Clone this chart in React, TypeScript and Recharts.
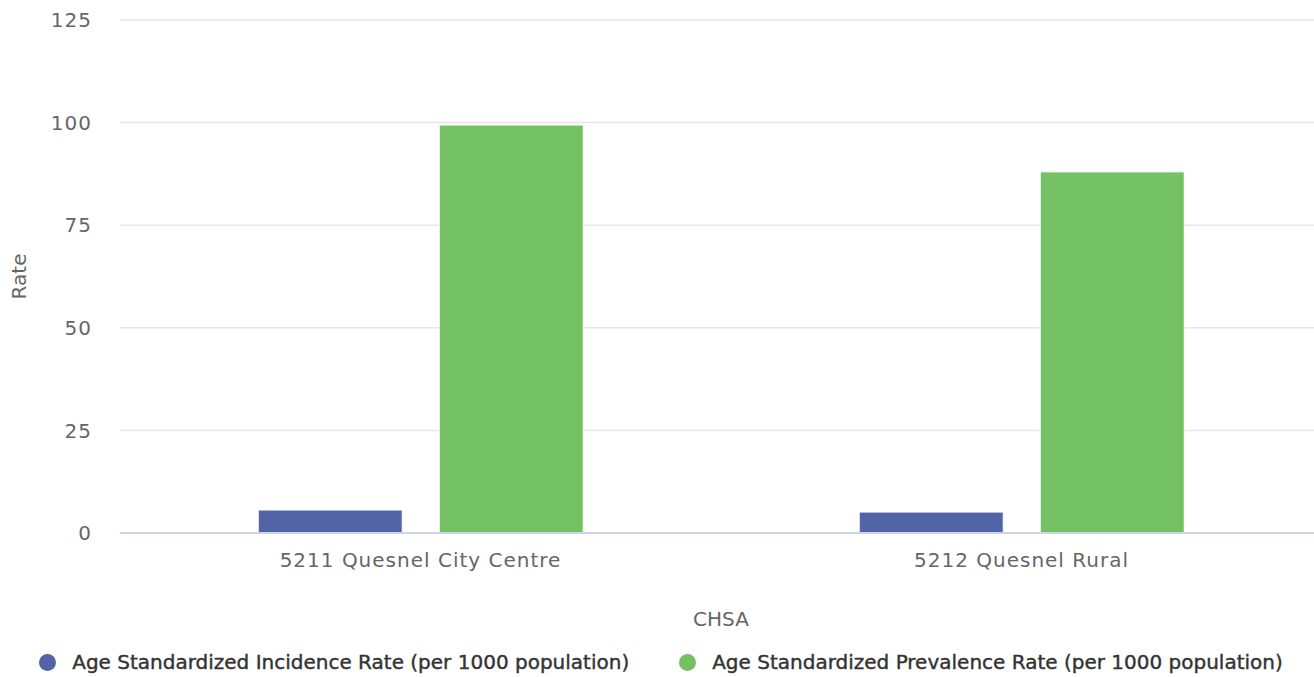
import { Bar, BarChart, CartesianGrid, Legend, XAxis, YAxis } from "recharts";

const categories = ["5211 Quesnel City Centre", "5212 Quesnel Rural"];
const incidenceRate = [5.6, 5.1];
const prevalenceRate = [99.4, 88.0];
const yTicks = [0, 25, 50, 75, 100, 125];

const SERIES = [
  { key: "incidence", name: "Age Standardized Incidence Rate (per 1000 population)", color: "#5264a5" },
  { key: "prevalence", name: "Age Standardized Prevalence Rate (per 1000 population)", color: "#73c162" },
];

const FONT = "'DejaVu Sans', Verdana, sans-serif";

const data = categories.map((name, i) => ({
  name,
  incidence: incidenceRate[i],
  prevalence: prevalenceRate[i],
}));

function LegendContent() {
  return (
    <div
      style={{
        display: "flex",
        justifyContent: "center",
        alignItems: "center",
        gap: 50,
        height: 30,
        fontFamily: FONT,
        fontSize: 20,
        color: "#333",
        WebkitTextStroke: "0.4px #333",
      }}
    >
      {SERIES.map((s) => (
        <div key={s.key} style={{ display: "flex", alignItems: "center" }}>
          <span
            style={{
              width: 17,
              height: 17,
              borderRadius: "50%",
              background: s.color,
              marginRight: 16,
              display: "inline-block",
              WebkitTextStroke: "0",
            }}
          />
          <span>{s.name}</span>
        </div>
      ))}
    </div>
  );
}

export default function App() {
  return (
    <div style={{ position: "absolute", left: 0, top: 0, width: 1314, height: 677, overflow: "hidden", background: "#fff" }}>
      <BarChart
        width={1330}
        height={677}
        data={data}
        margin={{ top: 20, right: 8, left: 0, bottom: 0 }}
        barCategoryGap="23%"
        barGap={37}
      >
        <CartesianGrid vertical={false} stroke="#e6e6e6" strokeWidth={1.5} />
        <XAxis
          dataKey="name"
          height={114}
          tickLine={false}
          tickSize={0}
          tickMargin={20}
          stroke="#ccd6eb"
          strokeWidth={2}
          tick={{ fill: "#666", fontSize: 20, fontFamily: FONT, letterSpacing: 1 }}
          label={{
            value: "CHSA",
            position: "insideBottom",
            offset: 21,
            fill: "#666",
            fontSize: 20,
            fontFamily: FONT,
          }}
        />
        <YAxis
          width={120}
          domain={[0, 125]}
          ticks={yTicks}
          axisLine={false}
          tickLine={false}
          tickSize={0}
          tickMargin={28}
          tick={{ fill: "#666", fontSize: 20, fontFamily: FONT, letterSpacing: 1 }}
          label={{
            value: "Rate",
            angle: -90,
            position: "insideLeft",
            offset: 19,
            fill: "#666",
            fontSize: 20,
            fontFamily: FONT,
            style: { textAnchor: "middle" },
          }}
        />
        <Legend verticalAlign="bottom" content={<LegendContent />} />
        {SERIES.map((s) => (
          <Bar
            key={s.key}
            dataKey={s.key}
            name={s.name}
            fill={s.color}
            stroke="#fff"
            strokeWidth={1}
            isAnimationActive={false}
          />
        ))}
      </BarChart>
    </div>
  );
}
